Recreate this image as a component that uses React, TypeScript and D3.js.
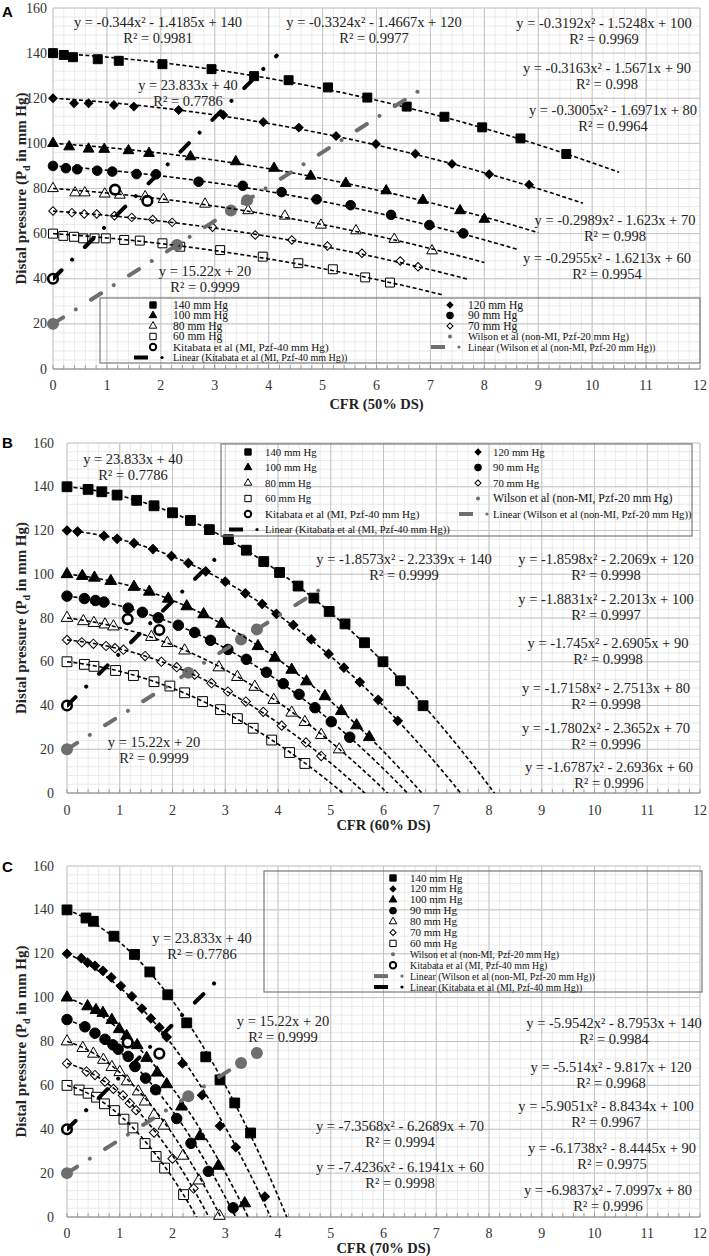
import React from "react";
import * as d3 from "d3";

const W = 709;
const H = 1256;

const pressures = [140, 120, 100, 90, 80, 70, 60];
const xTicks = d3.range(0, 13);
const yTicks = [0, 20, 40, 60, 80, 100, 120, 140, 160];

// reference studies (same in every panel)
const kitabataPts = [[0, 40], [1.15, 79.5], [1.75, 74.5]];
const wilsonPts = [[0, 20], [2.3, 55], [3.3, 70.2], [3.6, 74.8]];
const kitabataFit = [23.833, 40, 0.7786];
const wilsonFit = [15.22, 20, 0.9999];

// ---- panel A, CFR (50% DS)
const a140 = [[0, 140], [0.2, 139.2], [0.37, 138.2], [0.83, 137.3], [1.22, 136.6], [2.03, 135.1], [2.94, 132.9], [3.73, 129.8], [4.37, 128], [5.1, 124.8], [5.83, 120.3], [6.56, 116.3], [7.26, 111.8], [7.96, 107.1], [8.67, 102.2], [9.52, 95.3]];
const a120 = [[0, 120], [0.39, 117.8], [0.66, 117.8], [1.13, 117], [1.5, 116.3], [2.33, 114.8], [3.16, 112.6], [3.9, 109.5], [4.56, 107], [5.25, 103.3], [5.99, 99.7], [6.72, 95.4], [7.4, 90.9], [8.09, 86.3], [8.83, 81.7]];
const a100 = [[0, 100], [0.3, 98.5], [0.66, 97.5], [0.95, 97.4], [1.4, 96.8], [1.78, 95.6], [2.55, 94.1], [3.39, 91.9], [4.1, 89], [4.78, 85.5], [5.43, 82.3], [6.18, 79], [6.86, 74.8], [7.55, 70.2], [8.0, 66.4]];
const a90 = [[0, 90], [0.24, 89], [0.45, 88.5], [0.82, 87.9], [1.1, 87.5], [1.55, 86.4], [1.91, 86.3], [2.7, 83], [3.52, 81.2], [4.24, 78.4], [4.89, 75.2], [5.52, 72.6], [6.27, 68.3], [6.98, 63.8], [7.61, 60.1]];
const a80 = [[0, 80], [0.41, 78.1], [0.59, 78.1], [0.96, 77.6], [1.24, 77.1], [1.71, 76.4], [2.05, 75.2], [2.82, 73.1], [3.62, 70.2], [4.3, 67.8], [4.97, 63.8], [5.62, 61.3], [6.33, 57.5], [7.03, 52.4]];
const a70 = [[0, 70], [0.35, 69.3], [0.58, 68.7], [0.81, 68.7], [1.14, 67.9], [1.46, 67.2], [1.85, 66.3], [2.21, 65], [2.96, 62.8], [3.75, 59.4], [4.43, 57.2], [5.09, 54.5], [5.73, 51.3], [6.44, 47.9], [6.77, 45.3]];
const a60 = [[0, 60], [0.19, 59], [0.39, 58.6], [0.56, 57.9], [0.77, 57.9], [0.98, 57.9], [1.32, 57.2], [1.61, 56.9], [2.03, 55.7], [2.36, 54.2], [3.1, 52.7], [3.89, 49.8], [4.55, 46.9], [5.19, 44.2], [5.79, 40.6], [6.25, 38.3]];
// [a, b, c, R²] of y = a x² + b x + c
const aFits = [[-0.344, -1.4185, 140, 0.9981], [-0.3324, -1.4667, 120, 0.9977], [-0.3192, -1.5248, 100, 0.9969], [-0.3163, -1.5671, 90, 0.998], [-0.3005, -1.6971, 80, 0.9964], [-0.2989, -1.623, 70, 0.998], [-0.2955, -1.6213, 60, 0.9954]];
const aFitEnds = [10.5, 9.83, 9.0, 8.63, 8.0, 7.7, 7.24];
const aLinEnds = [4.15, 6.93];

// ---- panel B, CFR (60% DS)
const b140 = [[0, 140], [0.4, 138.8], [0.66, 137.7], [0.95, 136.2], [1.32, 133.8], [1.65, 131.3], [2.0, 128.1], [2.34, 124.6], [2.7, 120.4], [3.06, 115.8], [3.4, 111.0], [3.73, 105.8], [4.03, 100.8], [4.38, 94.6], [4.68, 89.1], [4.97, 83.0], [5.27, 77.3], [5.64, 68.7], [5.99, 60], [6.32, 51.3], [6.75, 39.9]];
const b120 = [[0, 120], [0.2, 119.5], [0.7, 117.5], [0.95, 116.2], [1.27, 114.2], [1.63, 111.5], [1.98, 108.3], [2.3, 105.1], [2.63, 101.3], [3.0, 96.6], [3.38, 91.3], [3.7, 86.4], [3.97, 81.9], [4.29, 76.8], [4.63, 70.2], [4.96, 63.6], [5.25, 57.3], [5.55, 50.7], [5.9, 42.6], [6.27, 33]];
const b100 = [[0, 100], [0.29, 99.2], [0.52, 98.4], [0.83, 96.9], [1.27, 94.2], [1.56, 92.0], [1.92, 88.8], [2.27, 85.3], [2.59, 81.7], [2.93, 77.3], [3.62, 67.1], [3.94, 61.8], [4.26, 56.3], [4.54, 51], [4.89, 44.2], [5.2, 37.4], [5.49, 30.9], [5.73, 25.5]];
const b90 = [[0, 90], [0.33, 88.9], [0.54, 88.0], [0.7, 87.3], [1.16, 84.5], [1.43, 82.6], [1.73, 80.1], [2.11, 76.7], [2.42, 73.4], [2.72, 69.8], [3.05, 65.6], [3.4, 61.1], [3.78, 55.2], [4.1, 50], [4.4, 45.1], [4.7, 39], [5.01, 32.6], [5.36, 25.5]];
const b80 = [[0, 80], [0.31, 78.5], [0.51, 77.7], [0.72, 77], [0.88, 76.1], [1.6, 71.3], [1.9, 68.5], [2.23, 65.1], [2.88, 57.4], [3.23, 53], [3.56, 48.5], [3.92, 42.5], [4.26, 36.7], [4.51, 32.4], [4.82, 26.5], [5.16, 19.9]];
const b70 = [[0, 70], [0.28, 68.9], [0.5, 68.2], [0.74, 67.2], [0.91, 66.2], [1.07, 65.5], [1.48, 62.6], [1.79, 60], [2.08, 57.5], [2.42, 54.1], [2.74, 50.2], [3.05, 46.4], [3.39, 41.8], [3.72, 37.1], [4.07, 30.8], [4.53, 23.1], [4.82, 16.9]];
const b60 = [[0, 60], [0.33, 58.8], [0.51, 57.9], [0.92, 56], [1.26, 53.7], [1.65, 50.9], [1.95, 48.9], [2.23, 45.8], [2.57, 41.8], [2.91, 38.1], [3.23, 34], [3.53, 29.6], [3.88, 24.2], [4.22, 18.5], [4.51, 13.5]];
const bFits = [[-1.8573, -2.2339, 140, 0.9999], [-1.8598, -2.2069, 120, 0.9998], [-1.8831, -2.2013, 100, 0.9997], [-1.745, -2.6905, 90, 0.9998], [-1.7158, -2.7513, 80, 0.9998], [-1.7802, -2.3652, 70, 0.9996], [-1.6787, -2.6936, 60, 0.9996]];
const bFitEnds = [8.2, 7.5, 6.8, 6.5, 6.1, 5.7, 5.3];
const bLinEnds = [2.85, 5.05];

// ---- panel C, CFR (70% DS)
const c140 = [[0, 140], [0.36, 136.3], [0.5, 134.8], [0.89, 128], [1.28, 119.7], [1.57, 111.7], [1.91, 101.3], [2.27, 88.5], [2.63, 73], [2.9, 62.5], [3.18, 52], [3.48, 38.3]];
const c120 = [[0, 120], [0.27, 118], [0.39, 116], [0.53, 114.5], [0.68, 112.2], [0.84, 109.2], [1.02, 105.3], [1.23, 100.6], [1.42, 95], [1.59, 90.5], [1.75, 86.4], [1.89, 82], [2.19, 70], [2.56, 55.5], [2.9, 41.5], [3.2, 31.8], [3.75, 9.3]];
const c100 = [[0, 100], [0.39, 96], [0.55, 94.3], [0.68, 93], [0.85, 89.8], [0.99, 85.6], [1.13, 82.5], [1.33, 78.3], [1.51, 72.5], [1.71, 65.8], [1.89, 60.5], [2.17, 50.3], [2.52, 36.8], [2.87, 23.3], [3.37, 6.2]];
const c90 = [[0, 90], [0.34, 86.7], [0.53, 83.8], [0.72, 81], [0.87, 78.5], [0.97, 76.5], [1.16, 73.2], [1.29, 68.6], [1.49, 63.3], [1.68, 58], [2.08, 44.9], [2.35, 33.6], [2.68, 20.8], [3.15, 4.2]];
const c80 = [[0, 80], [0.3, 77], [0.5, 74.4], [0.69, 71.6], [0.85, 68.3], [1.0, 66], [1.14, 61.8], [1.35, 57.2], [1.48, 52.6], [1.65, 46.5], [1.84, 41.6], [2.2, 27.9], [2.5, 16.6], [2.89, 0.5]];
const c70 = [[0, 70], [0.37, 66.3], [0.53, 64.7], [0.72, 61.7], [0.88, 58.4], [1.06, 55.4], [1.19, 51.9], [1.31, 48.7], [1.65, 38.5], [2.0, 26.6], [2.4, 13]];
const c60 = [[0, 60], [0.23, 57.9], [0.4, 56.4], [0.56, 54.6], [0.71, 51.6], [0.9, 48.5], [1.08, 44.6], [1.25, 40.6], [1.48, 33.5], [1.69, 27.6], [1.85, 22.3], [2.21, 10.2]];
const cFits = [[-5.9542, -8.7953, 140, 0.9984], [-5.514, -9.817, 120, 0.9968], [-5.9051, -8.8434, 100, 0.9967], [-6.1738, -8.4445, 90, 0.9975], [-6.9837, -7.0997, 80, 0.9996], [-7.3568, -6.2689, 70, 0.9994], [-7.4236, -6.1941, 60, 0.9998]];
const cFitEnds = [4.3, 4.0, 3.5, 3.3, 3.0, 2.8, 2.5];
const cLinEnds = [3.0, 3.55];

const legendNames = {
  kit: "Kitabata et al (MI, Pzf-40 mm Hg)",
  wil: "Wilson et al (non-MI, Pzf-20 mm Hg)",
  kitLin: "Linear (Kitabata et al (MI, Pzf-40 mm Hg))",
  wilLin: "Linear (Wilson et al (non-MI, Pzf-20 mm Hg))",
};

const markerStyle = {
  140: ["square", true],
  120: ["diamond", true],
  100: ["triangle", true],
  90: ["circle", true],
  80: ["triangle", false],
  70: ["diamond", false],
  60: ["square", false],
};

const WILSON_GREY = "#6e6e6e";
const SERIF = "'Liberation Serif', 'Times New Roman', serif";

const layouts = [
  {
    letter: "A", letterY: 17, x0: 53, x1: 700, y0: 369, y1: 8,
    tickY: 390, titleY: 409, xTitle: "CFR (50% DS)", mk: 1, yLabGap: 6,
    eq: [[158, 27], [374, 27], [604, 28], [607, 73], [613, 115], [615, 225], [607, 263]],
    kitEq: [188, 90], wilEq: [205, 276],
    box: [100, 298, 700, 363], fonts: { num: 11.5, kit: 11.2, wil: 10.6, lin: 10 },
    legend: [
      { cx: 153, tx: 173, rows: [140, 100, 80, 60, "kit", "kitLin"] },
      { cx: 450, tx: 468, rows: [120, 90, 70, "wil", "wilLin"] },
    ],
    rowY0: 305, rowDy: 10.5,
  },
  {
    letter: "B", letterY: 448, x0: 67, x1: 700, y0: 793, y1: 443,
    tickY: 815, titleY: 830, xTitle: "CFR (60% DS)", mk: 1.2, yLabGap: 13,
    eq: [[404, 564], [606, 564], [606, 604], [608, 648], [606, 693], [606, 733], [609, 772]],
    kitEq: [133, 464], wilEq: [154, 747],
    box: [221, 444, 692, 536], fonts: { num: 10.8, kit: 11.1, wil: 11.8, lin: 10.6 },
    legend: [
      { cx: 248, tx: 265, rows: [140, 100, 80, 60, "kit", "kitLin"] },
      { cx: 478, tx: 493, rows: [120, 90, 70, "wil", "wilLin"] },
    ],
    rowY0: 452, rowDy: 15.5,
  },
  {
    letter: "C", letterY: 872, x0: 67, x1: 700, y0: 1217, y1: 866,
    tickY: 1238, titleY: 1253, xTitle: "CFR (70% DS)", mk: 1.2, yLabGap: 13,
    eq: [[614, 1028], [611, 1072], [606, 1111], [612, 1153], [608, 1195], [400, 1131], [400, 1172]],
    kitEq: [202, 943], wilEq: [283, 1026],
    box: [264, 871, 702, 992], fonts: { num: 11, kit: 9.9, wil: 9.8, lin: 9.9 },
    legend: [
      { cx: 393, tx: 410, rows: [140, 120, 100, 90, 80, 70, 60, "wil", "kit", "wilLin", "kitLin"] },
    ],
    rowY0: 878, rowDy: 10.9,
  },
];

const panelData = [
  { pts: [a140, a120, a100, a90, a80, a70, a60], fits: aFits, ends: aFitEnds, lin: aLinEnds },
  { pts: [b140, b120, b100, b90, b80, b70, b60], fits: bFits, ends: bFitEnds, lin: bLinEnds },
  { pts: [c140, c120, c100, c90, c80, c70, c60], fits: cFits, ends: cFitEnds, lin: cLinEnds },
];

function Marker({ p, x, y, k }) {
  const [shape, filled] = markerStyle[p];
  let type = d3.symbolSquare;
  let size = 80 * k;
  let rot = 0;
  if (shape === "diamond") { size = 36 * k; rot = 45; }
  if (shape === "triangle") { type = d3.symbolTriangle; size = 50 * k; }
  if (shape === "circle") { type = d3.symbolCircle; size = 72 * k; }
  const d = d3.symbol(type, size)();
  return (
    <path d={d} transform={`translate(${x},${y}) rotate(${rot})`}
      fill={filled ? "#000" : "#fff"} stroke="#000" strokeWidth={1} />
  );
}

const fmtPoly = ([a, b, c]) => `y = ${a}x² - ${Math.abs(b)}x + ${c}`;

function EqLabel({ x, y, l1, l2 }) {
  return (
    <text x={x} y={y} textAnchor="middle" fontFamily={SERIF} fontSize={14.5} fill="#222">
      {l1}
      <tspan x={x} y={y + 15.5}>{l2}</tspan>
    </text>
  );
}

function Panel({ L, data }) {
  const x = d3.scaleLinear().domain([0, 12]).range([L.x0, L.x1]);
  const y = d3.scaleLinear().domain([0, 160]).range([L.y0, L.y1]);
  const clipId = `plot-${L.letter}`;
  const minorX = d3.range(0, 12.001, 0.2);
  const minorY = d3.range(0, 160.001, 4);
  const curve = (f, end) => {
    const xs = d3.range(0, end, 0.02).concat([end]);
    return d3.line()(xs.map((v) => [x(v), y(f[0] * v * v + f[1] * v + f[2])]));
  };
  const linLine = (f, end) => d3.line()([[x(0), y(f[1])], [x(end), y(f[0] * end + f[1])]]);
  const linDash = "12,15,0.01,18";

  const legendItem = (key, cx, tx, cy, i) => {
    const isNum = typeof key === "number";
    let mark = null;
    let fs = L.fonts.num;
    if (isNum) mark = <Marker p={key} x={cx} y={cy} k={0.5} />;
    else if (key === "kit") {
      fs = L.fonts.kit;
      mark = <circle cx={cx} cy={cy} r={3.2} fill="#fff" stroke="#000" strokeWidth={2} />;
    } else if (key === "wil") {
      fs = L.fonts.wil;
      mark = <circle cx={cx} cy={cy} r={2} fill={WILSON_GREY} />;
    } else {
      fs = L.fonts.lin;
      const col = key === "kitLin" ? "#000" : WILSON_GREY;
      mark = (
        <g>
          <line x1={cx - 19} x2={cx - 5} y1={cy} y2={cy} stroke={col} strokeWidth={4} />
          <circle cx={cx + 9} cy={cy} r={1.6} fill={col} />
        </g>
      );
    }
    return (
      <g key={i}>
        {mark}
        <text x={tx} y={cy + 3.5} fontFamily={SERIF} fontSize={fs} fill="#111">
          {isNum ? `${key} mm Hg` : legendNames[key]}
        </text>
      </g>
    );
  };

  return (
    <g>
      <defs>
        <clipPath id={clipId}>
          <rect x={L.x0} y={L.y1} width={L.x1 - L.x0} height={L.y0 - L.y1} />
        </clipPath>
      </defs>
      {/* minor grid */}
      {minorX.map((v, i) => (
        <line key={`mx${i}`} x1={x(v)} x2={x(v)} y1={y(0)} y2={y(160)} stroke="#e2e2e2" strokeWidth={0.7} />
      ))}
      {minorY.map((v, i) => (
        <line key={`my${i}`} x1={x(0)} x2={x(12)} y1={y(v)} y2={y(v)} stroke="#e2e2e2" strokeWidth={0.7} />
      ))}
      {/* major grid */}
      {xTicks.map((v) => (
        <line key={`gx${v}`} x1={x(v)} x2={x(v)} y1={y(0)} y2={y(160)} stroke="#c4c4c4" strokeWidth={1} />
      ))}
      {yTicks.map((v) => (
        <line key={`gy${v}`} x1={x(0)} x2={x(12)} y1={y(v)} y2={y(v)} stroke="#c4c4c4" strokeWidth={1} />
      ))}
      {/* bottom axis with minor ticks */}
      <line x1={x(0)} x2={x(12)} y1={y(0)} y2={y(0)} stroke="#8c8c8c" strokeWidth={1} />
      {minorX.map((v, i) => (
        <line key={`t${i}`} x1={x(v)} x2={x(v)} y1={y(0)} y2={y(0) - 4} stroke="#8c8c8c" strokeWidth={0.8} />
      ))}
      {xTicks.map((v) => (
        <text key={`xt${v}`} x={x(v)} y={L.tickY} textAnchor="middle" fontFamily={SERIF} fontSize={14} fill="#333">{v}</text>
      ))}
      {yTicks.map((v) => (
        <text key={`yt${v}`} x={L.x0 - L.yLabGap} y={y(v) + 4.5} textAnchor="end" fontFamily={SERIF} fontSize={14} fill="#333">{v}</text>
      ))}
      <text x={(L.x0 + L.x1) / 2} y={L.titleY} textAnchor="middle" fontFamily={SERIF} fontWeight="bold" fontSize={14.5} fill="#222">{L.xTitle}</text>
      <text transform={`translate(26,${(L.y0 + L.y1) / 2}) rotate(-90)`} textAnchor="middle" fontFamily={SERIF} fontWeight="bold" fontSize={15} fill="#222">
        Distal pressure (P<tspan dy={4} fontSize={10}>d</tspan><tspan dy={-4}> in mm Hg)</tspan>
      </text>
      <text x={2} y={L.letterY} fontFamily="'Liberation Sans', Arial, sans-serif" fontWeight="bold" fontSize={15} fill="#000">{L.letter}</text>

      {/* series markers */}
      {data.pts.map((pts, si) =>
        pts.map((p, j) => <Marker key={`m${si}-${j}`} p={pressures[si]} x={x(p[0])} y={y(p[1])} k={L.mk} />)
      )}
      {wilsonPts.map((p, j) => (
        <circle key={`w${j}`} cx={x(p[0])} cy={y(p[1])} r={6} fill={WILSON_GREY} />
      ))}
      {kitabataPts.map((p, j) => (
        <circle key={`k${j}`} cx={x(p[0])} cy={y(p[1])} r={4.8} fill="#fff" stroke="#000" strokeWidth={2.6} />
      ))}

      {/* trendlines */}
      <g clipPath={`url(#${clipId})`}>
        {data.fits.map((f, si) => (
          <path key={`f${si}`} d={curve(f, data.ends[si])} fill="none" stroke="#000" strokeWidth={1.6} strokeDasharray="4,2.5" />
        ))}
        <path d={linLine(kitabataFit, data.lin[0])} fill="none" stroke="#000" strokeWidth={4} strokeLinecap="round" strokeDasharray={linDash} />
        <path d={linLine(wilsonFit, data.lin[1])} fill="none" stroke={WILSON_GREY} strokeWidth={4} strokeLinecap="round" strokeDasharray={linDash} />
      </g>

      {/* equations */}
      {data.fits.map((f, si) => (
        <EqLabel key={`e${si}`} x={L.eq[si][0]} y={L.eq[si][1]} l1={fmtPoly(f)} l2={`R² = ${f[3]}`} />
      ))}
      <EqLabel x={L.kitEq[0]} y={L.kitEq[1]} l1={`y = ${kitabataFit[0]}x + ${kitabataFit[1]}`} l2={`R² = ${kitabataFit[2]}`} />
      <EqLabel x={L.wilEq[0]} y={L.wilEq[1]} l1={`y = ${wilsonFit[0]}x + ${wilsonFit[1]}`} l2={`R² = ${wilsonFit[2]}`} />

      {/* legend */}
      <rect x={L.box[0]} y={L.box[1]} width={L.box[2] - L.box[0]} height={L.box[3] - L.box[1]} fill="none" stroke="#7a7a7a" strokeWidth={1.2} />
      {L.legend.map((col, ci) =>
        col.rows.map((key, ri) => legendItem(key, col.cx, col.tx, L.rowY0 + ri * L.rowDy, `${ci}-${ri}`))
      )}
    </g>
  );
}

export default function App() {
  return (
    <svg width={W} height={H} style={{ position: "absolute", left: 0, top: 0, background: "#fff" }}>
      <rect width={W} height={H} fill="#fff" />
      {layouts.map((L, i) => (
        <Panel key={L.letter} L={L} data={panelData[i]} />
      ))}
    </svg>
  );
}
